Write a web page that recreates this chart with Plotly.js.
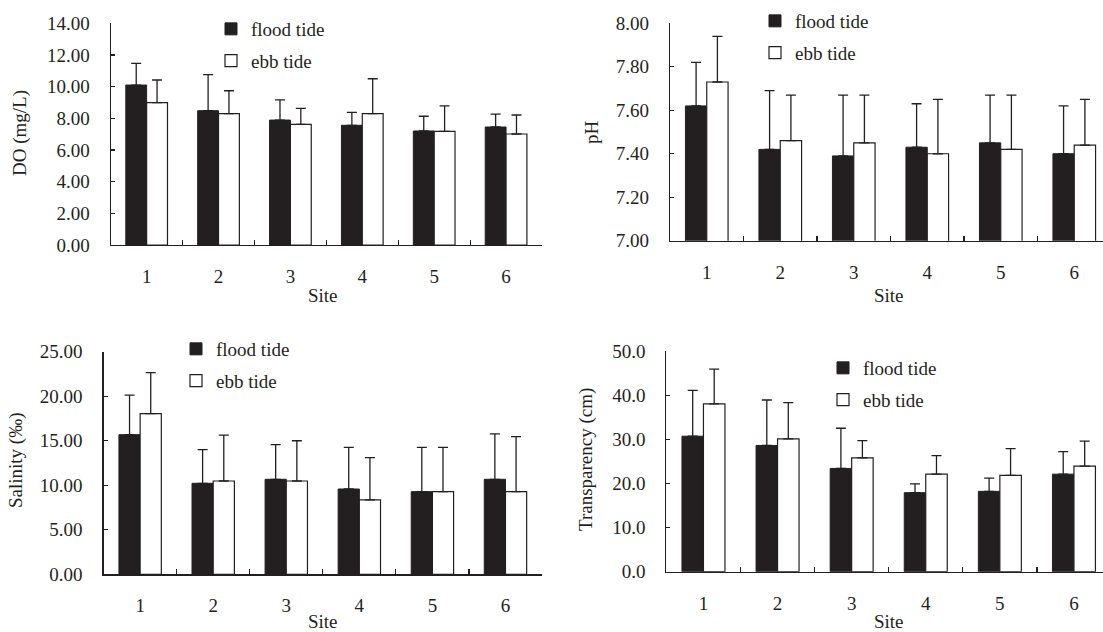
<!DOCTYPE html>
<html>
<head>
<meta charset="utf-8">
<script src="https://cdn.plot.ly/plotly-3.0.1.min.js"></script>
<style>html,body{margin:0;padding:0;background:#fff;}#chart{width:1103px;height:632px;}</style>
</head>
<body>
<div id="chart"></div>
<script>
// ---- data ----
const sites = ['1', '2', '3', '4', '5', '6'];
const seriesNames = ['flood tide', 'ebb tide'];

const doFlood = [10.10, 8.48, 7.89, 7.56, 7.20, 7.45];
const doFloodErr = [1.37, 2.28, 1.27, 0.82, 0.93, 0.82];
const doEbb = [8.99, 8.29, 7.62, 8.29, 7.18, 7.01];
const doEbbErr = [1.43, 1.45, 1.01, 2.21, 1.60, 1.20];

const phFlood = [7.62, 7.42, 7.39, 7.43, 7.45, 7.40];
const phFloodErr = [0.20, 0.27, 0.28, 0.20, 0.22, 0.22];
const phEbb = [7.73, 7.46, 7.45, 7.40, 7.42, 7.44];
const phEbbErr = [0.21, 0.21, 0.22, 0.25, 0.25, 0.21];

const salFlood = [15.68, 10.22, 10.67, 9.58, 9.28, 10.67];
const salFloodErr = [4.45, 3.78, 3.89, 4.68, 4.98, 5.09];
const salEbb = [18.04, 10.48, 10.48, 8.35, 9.28, 9.28];
const salEbbErr = [4.60, 5.16, 4.52, 4.75, 4.98, 6.18];

const trFlood = [30.7, 28.6, 23.4, 17.9, 18.2, 22.1];
const trFloodErr = [10.4, 10.3, 9.1, 2.0, 3.0, 5.1];
const trEbb = [38.0, 30.1, 25.8, 22.1, 21.8, 23.9];
const trEbbErr = [7.9, 8.2, 3.9, 4.2, 6.1, 5.7];

const yTitles = ['DO (mg/L)', 'pH', 'Salinity (‰)', 'Transparency (cm)'];
const xTitle = 'Site';

// ---- styling ----
const W = 1103, H = 632;
const ink = '#231f20';
const FONT = 'Liberation Serif';
const FS = 19;

function px(x) { return x / W; }
function py(y) { return 1 - y / H; }

const panels = [
  {flood: doFlood, fe: doFloodErr, ebb: doEbb, ee: doEbbErr, xa: 'x', ya: 'y', leg: 'legend'},
  {flood: phFlood, fe: phFloodErr, ebb: phEbb, ee: phEbbErr, xa: 'x2', ya: 'y2', leg: 'legend2'},
  {flood: salFlood, fe: salFloodErr, ebb: salEbb, ee: salEbbErr, xa: 'x3', ya: 'y3', leg: 'legend3'},
  {flood: trFlood, fe: trFloodErr, ebb: trEbb, ee: trEbbErr, xa: 'x4', ya: 'y4', leg: 'legend4'}
];

const traces = [];
panels.forEach((p, i) => {
  traces.push({
    type: 'bar', x: sites, y: p.flood, name: seriesNames[0],
    xaxis: p.xa, yaxis: p.ya, legend: p.leg, legendgroup: 'f' + i,
    marker: {color: ink, line: {color: ink, width: 1}},
    error_y: {type: 'data', symmetric: false, array: p.fe, arrayminus: p.fe.map(() => 0),
              color: ink, thickness: 1.3, width: 5}
  });
  traces.push({
    type: 'bar', x: sites, y: p.ebb, name: seriesNames[1],
    xaxis: p.xa, yaxis: p.ya, legend: p.leg, legendgroup: 'e' + i,
    marker: {color: '#ffffff', line: {color: ink, width: 1.2}},
    error_y: {type: 'data', symmetric: false, array: p.ee, arrayminus: p.ee.map(() => 0),
              color: ink, thickness: 1.3, width: 5}
  });
});

function xaxis(d0, d1, range, anchor) {
  return {
    domain: [d0, d1], anchor: anchor, type: 'category', range: range,
    showline: true, linecolor: ink, linewidth: 1.2,
    ticks: 'inside', ticklen: 5, tickwidth: 1.2, tickcolor: ink, tickson: 'boundaries',
    ticklabelstandoff: 14,
    showgrid: false, zeroline: false, fixedrange: true,
    tickfont: {family: FONT, size: FS, color: ink}
  };
}
function yaxis(d0, d1, range, dtick, fmt, anchor) {
  return {
    domain: [d0, d1], anchor: anchor, range: range, dtick: dtick, tick0: range[0], tickformat: fmt,
    showline: true, linecolor: ink, linewidth: 1.2,
    ticks: 'inside', ticklen: 4, tickwidth: 1.2, tickcolor: ink,
    ticklabelstandoff: 16,
    showgrid: false, zeroline: false, fixedrange: true,
    tickfont: {family: FONT, size: FS, color: ink}
  };
}

function legend(x, yTop) {
  return {
    x: px(x), y: py(yTop), xanchor: 'left', yanchor: 'top',
    bgcolor: 'rgba(0,0,0,0)', borderwidth: 0,
    font: {family: FONT, size: FS, color: ink},
    traceorder: 'grouped', tracegroupgap: 4
  };
}

const ann = [];
function addText(text, x, y, angle) {
  ann.push({text: text, xref: 'paper', yref: 'paper', x: px(x), y: py(y),
            xanchor: 'center', yanchor: 'middle', showarrow: false, textangle: angle || 0,
            font: {family: FONT, size: FS, color: ink}});
}
addText(xTitle, 323, 295);
addText(xTitle, 889, 295);
addText(xTitle, 323, 621);
addText(xTitle, 889, 621);
addText(yTitles[0], 20, 133, -90);
addText(yTitles[1], 591, 132, -90);
addText(yTitles[2], 16, 460, -90);
addText(yTitles[3], 586, 460, -90);

const layout = {
  width: W, height: H,
  margin: {l: 0, r: 0, t: 0, b: 0},
  paper_bgcolor: '#ffffff', plot_bgcolor: 'rgba(0,0,0,0)',
  barmode: 'group', bargap: 0.42, bargroupgap: 0,
  hovermode: false, showlegend: true,
  font: {family: FONT, size: FS, color: ink},
  xaxis: xaxis(px(110.7), px(542), [-0.5, 5.5], 'y'),
  yaxis: yaxis(py(245), py(23.3), [0, 14], 2, '.2f', 'x'),
  xaxis2: xaxis(px(670), 1, [-0.5, -0.5 + (W - 670) / 73.5], 'y2'),
  yaxis2: yaxis(py(240.7), py(23.3), [7, 8], 0.2, '.2f', 'x2'),
  xaxis3: xaxis(px(103.6), px(542), [-0.5, 5.5], 'y3'),
  yaxis3: yaxis(py(574.3), py(351.7), [0, 25], 5, '.2f', 'x3'),
  xaxis4: xaxis(px(666.4), 1, [-0.5, -0.5 + (W - 666.4) / 74.1], 'y4'),
  yaxis4: yaxis(py(571.7), py(351), [0, 50], 10, '.1f', 'x4'),
  legend: legend(211, 10),
  legend2: legend(755, 2),
  legend3: legend(176, 330),
  legend4: legend(823, 349),
  annotations: ann
};

Plotly.newPlot('chart', traces, layout, {staticPlot: true, displayModeBar: false});
</script>
</body>
</html>
